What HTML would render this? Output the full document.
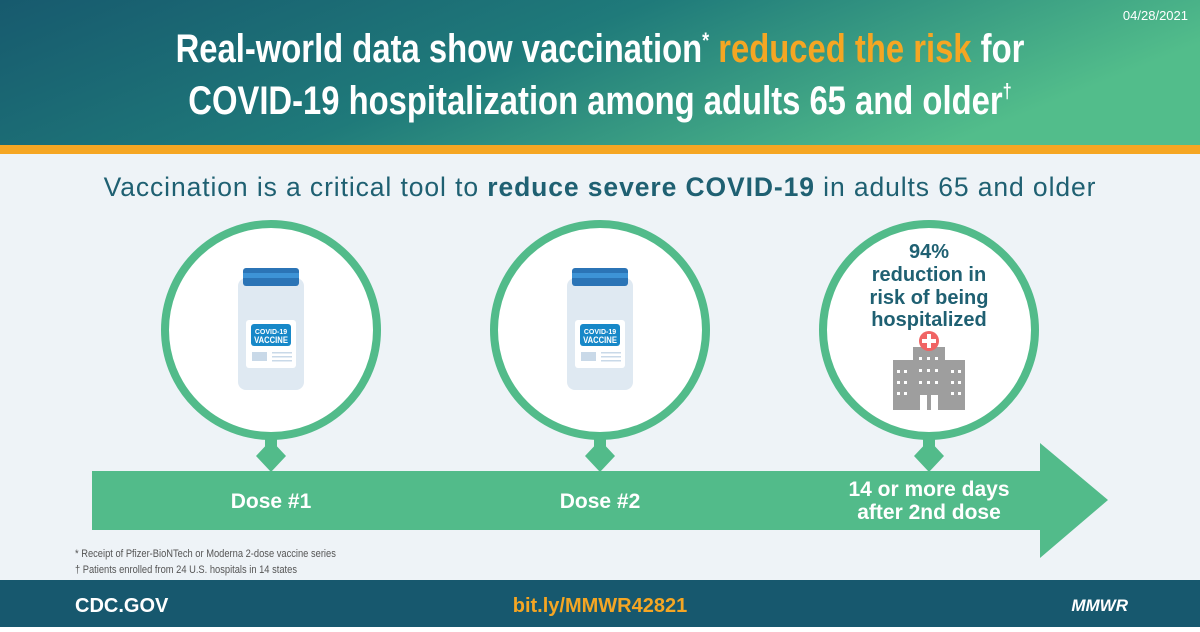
<!DOCTYPE html>
<html><head><meta charset="utf-8"><style>
body{margin:0;width:1200px;height:627px;overflow:hidden;font-family:"Liberation Sans",sans-serif}
</style></head><body>
<svg width="1200" height="627" viewBox="0 0 1200 627" xmlns="http://www.w3.org/2000/svg">
<defs>
<linearGradient id="hg" x1="0" y1="0" x2="1" y2="0.3">
<stop offset="0" stop-color="#175a6e"/><stop offset="0.5" stop-color="#1f7a7a"/><stop offset="1" stop-color="#52bd8b"/>
</linearGradient>
<g id="vial">
<rect x="-33" y="-52" width="66" height="112" rx="8" fill="#dfe9f2"/>
<rect x="-22" y="-62" width="44" height="12" fill="#dfe9f2"/>
<rect x="-28" y="-62" width="56" height="18" rx="3" fill="#2b74b6"/>
<rect x="-28" y="-57" width="56" height="5" fill="#3d93d6"/>
<rect x="-25" y="-10" width="50" height="48" rx="3" fill="#fff"/>
<rect x="-20" y="-6" width="40" height="22" rx="3" fill="#1788c8"/>
<text x="0" y="4" font-size="7" font-weight="bold" fill="#fff" text-anchor="middle">COVID-19</text>
<text x="0" y="13" font-size="9" font-weight="bold" fill="#fff" text-anchor="middle" transform="scale(0.85 1)">VACCINE</text>
<rect x="-19" y="22" width="15" height="9" fill="#c9d9e8"/>
<rect x="1" y="22" width="20" height="1.5" fill="#c9d9e8"/><rect x="1" y="26" width="20" height="1.5" fill="#c9d9e8"/><rect x="1" y="30" width="20" height="1.5" fill="#c9d9e8"/>
</g>
</defs>
<rect width="1200" height="627" fill="#eef3f7"/>
<rect width="1200" height="145" fill="url(#hg)"/>
<rect y="145" width="1200" height="9" fill="#f5a623"/>
<text x="1188" y="20" font-size="13" fill="#fff" text-anchor="end">04/28/2021</text>
<g font-weight="bold" font-size="40" fill="#fff" text-anchor="middle">
<text x="600" y="62" transform="translate(600 0) scale(0.82 1) translate(-600 0)">Real-world data show vaccination<tspan font-size="22" dy="-14">*</tspan><tspan dy="14" fill="#f5a623"> reduced the risk</tspan> for</text>
<text x="600" y="114" transform="translate(600 0) scale(0.82 1) translate(-600 0)">COVID-19 hospitalization among adults 65 and older<tspan font-size="20" dy="-16">†</tspan></text>
</g>
<text x="600" y="196" font-size="26.5" letter-spacing="0.9" fill="#1f6072" text-anchor="middle">Vaccination is a critical tool to <tspan font-weight="bold">reduce severe COVID-19</tspan> in adults 65 and older</text>
<path d="M92 471 H1040 V443 L1108 500 L1040 558 V530 H92 Z" fill="#52bb8a"/>
<g fill="#52bb8a">
<path d="M271 440 L286 456 L271 472 L256 456Z"/><rect x="265" y="432" width="12" height="20"/>
<path d="M600 440 L615 456 L600 472 L585 456Z"/><rect x="594" y="432" width="12" height="20"/>
<path d="M929 440 L944 456 L929 472 L914 456Z"/><rect x="923" y="432" width="12" height="20"/>
</g>
<g fill="#fff" stroke="#52bb8a" stroke-width="8">
<circle cx="271" cy="330" r="106"/><circle cx="600" cy="330" r="106"/><circle cx="929" cy="330" r="106"/>
</g>
<use href="#vial" x="271" y="330"/>
<use href="#vial" x="600" y="330"/>
<g font-weight="bold" fill="#1f6072" font-size="20" text-anchor="middle">
<text x="929" y="258">94%</text><text x="929" y="281">reduction in</text><text x="929" y="304">risk of being</text><text x="929" y="326">hospitalized</text>
</g>
<g fill="#9e9e9e">
<rect x="893" y="360" width="20" height="50"/><rect x="945" y="360" width="20" height="50"/><rect x="913" y="347" width="32" height="63"/>
</g>
<g fill="#fff">
<rect x="920" y="395" width="7" height="15"/><rect x="931" y="395" width="7" height="15"/>
<rect x="897" y="370" width="3" height="3"/><rect x="904" y="370" width="3" height="3"/><rect x="897" y="381" width="3" height="3"/><rect x="904" y="381" width="3" height="3"/><rect x="897" y="392" width="3" height="3"/><rect x="904" y="392" width="3" height="3"/>
<rect x="951" y="370" width="3" height="3"/><rect x="958" y="370" width="3" height="3"/><rect x="951" y="381" width="3" height="3"/><rect x="958" y="381" width="3" height="3"/><rect x="951" y="392" width="3" height="3"/><rect x="958" y="392" width="3" height="3"/>
<rect x="919" y="357" width="3" height="3"/><rect x="927" y="357" width="3" height="3"/><rect x="935" y="357" width="3" height="3"/>
<rect x="919" y="369" width="3" height="3"/><rect x="927" y="369" width="3" height="3"/><rect x="935" y="369" width="3" height="3"/>
<rect x="919" y="381" width="3" height="3"/><rect x="927" y="381" width="3" height="3"/><rect x="935" y="381" width="3" height="3"/>
</g>
<circle cx="929" cy="341" r="10" fill="#f06464"/>
<path d="M927 334h4v5h5v4h-5v5h-4v-5h-5v-4h5z" fill="#fff"/>
<g font-weight="bold" fill="#fff" font-size="21" text-anchor="middle">
<text x="271" y="508">Dose #1</text><text x="600" y="508">Dose #2</text>
<text x="929" y="496">14 or more days</text><text x="929" y="519">after 2nd dose</text>
</g>
<g font-size="11" fill="#555">
<text x="75" y="557" transform="translate(75 0) scale(0.85 1) translate(-75 0)">*  Receipt of Pfizer-BioNTech or Moderna 2-dose vaccine series</text>
<text x="75" y="573" transform="translate(75 0) scale(0.85 1) translate(-75 0)">†  Patients enrolled from 24 U.S. hospitals in 14 states</text>
</g>
<rect y="580" width="1200" height="47" fill="#17586e"/>
<text x="75" y="612" font-size="20" font-weight="bold" fill="#fff">CDC.GOV</text>
<text x="600" y="612" font-size="20" font-weight="bold" fill="#f5a623" text-anchor="middle">bit.ly/MMWR42821</text>
<text x="1128" y="611" font-size="17" font-weight="bold" font-style="italic" fill="#fff" text-anchor="end">MMWR</text>
</svg>
</body></html>
